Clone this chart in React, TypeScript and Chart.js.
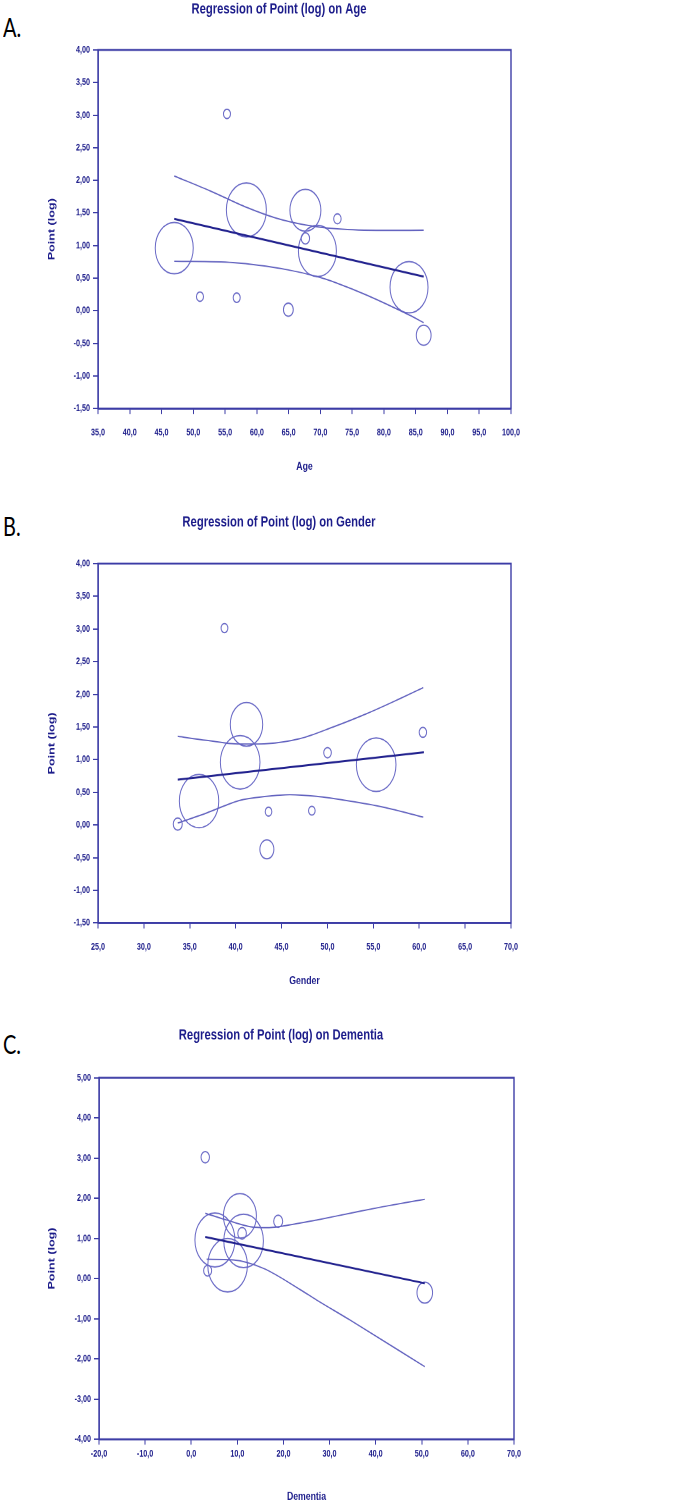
import React, { useEffect, useRef } from "react";
import { Chart, registerables } from "chart.js";

Chart.register(...registerables);

// ---------------- Panel A: Age ----------------
const ageStudyX = [47.0, 58.35, 67.64, 69.53, 83.95, 72.68, 67.64, 51.05, 56.83, 64.96, 86.26, 55.3];
const ageStudyY = [0.96, 1.546, 1.54, 0.917, 0.36, 1.41, 1.11, 0.216, 0.2, 0.017, -0.376, 3.02];
const ageStudyW = [19, 20, 15.5, 19, 19, 3.7, 4.2, 3.5, 3.5, 4.9, 7.4, 3.5];
const ageFitX = [47.0, 86.26];
const ageFitY = [1.408, 0.523];
const ageUpperX = [47.0, 52.58, 58.35, 63.08, 67.64, 72.68, 79.85, 86.26];
const ageUpperY = [2.067, 1.842, 1.587, 1.419, 1.316, 1.255, 1.232, 1.235];
const ageLowerX = [47.0, 56.25, 64.96, 69.53, 72.68, 77.24, 83.95, 86.26];
const ageLowerY = [0.759, 0.738, 0.626, 0.523, 0.421, 0.242, -0.064, -0.182];
const ageXTicks = [35, 40, 45, 50, 55, 60, 65, 70, 75, 80, 85, 90, 95, 100];
const ageYTicks = [-1.5, -1, -0.5, 0, 0.5, 1, 1.5, 2, 2.5, 3, 3.5, 4];

// ---------------- Panel B: Gender ----------------
const genderStudyX = [36.01, 41.18, 40.49, 55.31, 50.01, 60.4, 43.58, 48.3, 33.69, 43.4, 38.78];
const genderStudyY = [0.366, 1.54, 0.959, 0.923, 1.107, 1.418, 0.204, 0.219, 0.014, -0.373, 3.014];
const genderStudyW = [19.7, 16.2, 19.8, 19.8, 3.8, 3.7, 3.3, 3.3, 4.5, 7, 3.4];
const genderFitX = [33.69, 60.51];
const genderFitY = [0.694, 1.112];
const genderUpperX = [33.69, 36.82, 40.45, 43.36, 46.99, 50.62, 54.27, 57.9, 60.44];
const genderUpperY = [1.357, 1.295, 1.238, 1.245, 1.321, 1.5, 1.704, 1.934, 2.102];
const genderLowerX = [33.69, 36.82, 40.45, 43.36, 45.9, 48.81, 52.44, 56.08, 60.44];
const genderLowerY = [0.03, 0.183, 0.377, 0.438, 0.464, 0.438, 0.366, 0.274, 0.121];
const genderXTicks = [25, 30, 35, 40, 45, 50, 55, 60, 65, 70];
const genderYTicks = [-1.5, -1, -0.5, 0, 0.5, 1, 1.5, 2, 2.5, 3, 3.5, 4];

// ---------------- Panel C: Dementia ----------------
const dementiaStudyX = [3.04, 10.56, 5.14, 11.36, 7.89, 11.03, 18.86, 3.56, 50.65];
const dementiaStudyY = [3.02, 1.56, 0.96, 0.936, 0.331, 1.127, 1.426, 0.197, -0.35];
const dementiaStudyW = [4.2, 16.5, 20, 19.8, 19.8, 4.3, 4.5, 4, 7.8];
const dementiaFitX = [3.04, 50.65];
const dementiaFitY = [1.035, -0.117];
const dementiaUpperX = [3.04, 7.67, 12.73, 16.34, 19.95, 27.18, 34.4, 41.62, 50.65];
const dementiaUpperY = [1.625, 1.458, 1.292, 1.267, 1.309, 1.458, 1.625, 1.79, 1.974];
const dementiaLowerX = [3.34, 9.1, 15.6, 23.56, 27.18, 34.4, 50.65];
const dementiaLowerY = [0.48, 0.463, 0.256, -0.27, -0.533, -1.03, -2.193];
const dementiaXTicks = [-20, -10, 0, 10, 20, 30, 40, 50, 60, 70];
const dementiaYTicks = [-4, -3, -2, -1, 0, 1, 2, 3, 4, 5];

// ---------------- Styles ----------------
const STRETCH = 1.35;
const FONT = "'Liberation Sans', Arial, Helvetica, sans-serif";
const TEXT = "#1c1c8a";
const AXIS = "#3c3ca6";
const CIRCLE = "#6a6ac6";
const BAND = "#6262bf";
const FIT = "#22228e";

const fmtX = (v: number) => v.toFixed(1).replace(".", ",");
const fmtY = (v: number) => v.toFixed(2).replace(".", ",");

const pts = (xs: number[], ys: number[]) => xs.map((x, i) => ({ x, y: ys[i] }));

type PanelProps = {
  letter: string;
  title: string;
  xTitle: string;
  sx: number[];
  sy: number[];
  sw: number[];
  fx: number[];
  fy: number[];
  ux: number[];
  uy: number[];
  lx: number[];
  ly: number[];
  xTicks: number[];
  yTicks: number[];
  top: number;
  letterTop: number;
  width: number;
  height: number;
  plotLeft: number;
  plotRight: number;
  plotTop: number;
  plotBottom: number;
  xTickPad: number;
};

const framePlugin = {
  id: "frame",
  afterDatasetsDraw(chart: any) {
    const { ctx, chartArea } = chart;
    if (!chartArea) return;
    ctx.save();
    ctx.strokeStyle = AXIS;
    ctx.lineWidth = 1.4;
    ctx.strokeRect(chartArea.left, chartArea.top, chartArea.right - chartArea.left, chartArea.bottom - chartArea.top);
    ctx.restore();
  },
};

function Panel(p: PanelProps) {
  const ref = useRef<HTMLCanvasElement | null>(null);

  useEffect(() => {
    if (!ref.current) return;
    const yTitleSize = 9.3;
    const tickFont = { family: FONT, size: 7.2, weight: "bold" };
    const chart = new Chart(ref.current, {
      type: "bubble",
      data: {
        datasets: [
          {
            type: "line",
            data: pts(p.ux, p.uy),
            borderColor: BAND,
            borderWidth: 1,
            pointRadius: 0,
            fill: false,
            cubicInterpolationMode: "monotone",
          } as any,
          {
            type: "line",
            data: pts(p.lx, p.ly),
            borderColor: BAND,
            borderWidth: 1,
            pointRadius: 0,
            fill: false,
            cubicInterpolationMode: "monotone",
          } as any,
          {
            type: "line",
            data: pts(p.fx, p.fy),
            borderColor: FIT,
            borderWidth: 1.5,
            pointRadius: 0,
            fill: false,
          } as any,
          {
            type: "bubble",
            data: p.sx.map((x, i) => ({ x, y: p.sy[i], r: p.sw[i] })),
            borderColor: CIRCLE,
            backgroundColor: "rgba(0,0,0,0)",
            borderWidth: 1,
            clip: false,
          } as any,
        ],
      },
      options: {
        responsive: false,
        animation: false,
        devicePixelRatio: 2,
        layout: { padding: 0 },
        plugins: {
          legend: { display: false },
          tooltip: { enabled: false },
          title: {
            display: true,
            text: p.title,
            color: TEXT,
            font: { family: FONT, size: 11.25, weight: "bold", lineHeight: 1.2 },
            padding: { top: 0, bottom: p.plotTop - 13.5 },
          },
        },
        scales: {
          x: {
            type: "linear",
            min: p.xTicks[0],
            max: p.xTicks[p.xTicks.length - 1],
            afterBuildTicks: (s: any) => {
              s.ticks = p.xTicks.map((v) => ({ value: v }));
            },
            afterFit: (s: any) => {
              s.height = p.height - p.plotBottom;
            },
            ticks: {
              callback: (v: any) => fmtX(Number(v)),
              color: TEXT,
              font: tickFont,
              padding: p.xTickPad,
              maxRotation: 0,
              autoSkip: false,
            },
            grid: { display: true, drawOnChartArea: false, drawTicks: true, tickLength: 4, color: AXIS, lineWidth: 1 },
            border: { display: true, color: AXIS, width: 1.4 },
            title: {
              display: true,
              text: p.xTitle,
              color: TEXT,
              font: { family: FONT, size: 8.7, weight: "bold", lineHeight: 1.2 },
              padding: { top: 0, bottom: 2 },
            },
          },
          y: {
            type: "linear",
            min: p.yTicks[0],
            max: p.yTicks[p.yTicks.length - 1],
            afterBuildTicks: (s: any) => {
              s.ticks = p.yTicks.map((v) => ({ value: v }));
            },
            afterFit: (s: any) => {
              s.width = p.plotLeft;
            },
            ticks: {
              callback: (v: any) => fmtY(Number(v)),
              color: TEXT,
              font: tickFont,
              padding: 3,
              autoSkip: false,
            },
            grid: { display: true, drawOnChartArea: false, drawTicks: true, tickLength: 5, color: AXIS, lineWidth: 1 },
            border: { display: true, color: AXIS, width: 1.4 },
            title: {
              display: true,
              text: "Point (log)",
              color: TEXT,
              font: { family: FONT, size: yTitleSize, weight: "bold", lineHeight: 1.2 },
              padding: { top: 52 - (yTitleSize * 1.2) / 2, bottom: 0 },
            },
          },
          yRight: {
            type: "linear",
            position: "right",
            display: true,
            ticks: { display: false },
            grid: { display: false },
            border: { display: false },
            afterFit: (s: any) => {
              s.width = p.width - p.plotRight;
            },
          },
        },
      } as any,
      plugins: [framePlugin],
    });
    return () => chart.destroy();
  }, []);

  return (
    <>
      <div
        style={{
          position: "absolute",
          left: 3,
          top: p.letterTop,
          fontFamily: "Lato, 'Open Sans', sans-serif",
          fontSize: 20,
          lineHeight: "20px",
          color: "#000",
          transform: "scaleY(1.3)",
          transformOrigin: "0 0",
        }}
      >
        {p.letter}
      </div>
      <div style={{ position: "absolute", left: 0, top: p.top, width: p.width, height: p.height * STRETCH }}>
        <canvas
          ref={ref}
          width={p.width}
          height={p.height}
          style={{
            display: "block",
            width: p.width,
            height: p.height,
            transform: `scaleY(${STRETCH})`,
            transformOrigin: "0 0",
          }}
        />
      </div>
    </>
  );
}

export default function App() {
  return (
    <div
      style={{
        position: "absolute",
        left: 0,
        top: 0,
        width: 688,
        height: 1504,
        overflow: "hidden",
        background: "#fff",
      }}
    >
      <Panel
        letter="A."
        title="Regression of Point (log) on Age"
        xTitle="Age"
        sx={ageStudyX}
        sy={ageStudyY}
        sw={ageStudyW}
        fx={ageFitX}
        fy={ageFitY}
        ux={ageUpperX}
        uy={ageUpperY}
        lx={ageLowerX}
        ly={ageLowerY}
        xTicks={ageXTicks}
        yTicks={ageYTicks}
        top={0}
        letterTop={14}
        width={558}
        height={353}
        plotLeft={98}
        plotRight={511}
        plotTop={37.0}
        plotBottom={302.6}
        xTickPad={9.5}
      />
      <Panel
        letter="B."
        title="Regression of Point (log) on Gender"
        xTitle="Gender"
        sx={genderStudyX}
        sy={genderStudyY}
        sw={genderStudyW}
        fx={genderFitX}
        fy={genderFitY}
        ux={genderUpperX}
        uy={genderUpperY}
        lx={genderLowerX}
        ly={genderLowerY}
        xTicks={genderXTicks}
        yTicks={genderYTicks}
        top={512.7}
        letterTop={513}
        width={558}
        height={354}
        plotLeft={98}
        plotRight={511}
        plotTop={37.5}
        plotBottom={303.7}
        xTickPad={9.4}
      />
      <Panel
        letter="C."
        title="Regression of Point (log) on Dementia"
        xTitle="Dementia"
        sx={dementiaStudyX}
        sy={dementiaStudyY}
        sw={dementiaStudyW}
        fx={dementiaFitX}
        fy={dementiaFitY}
        ux={dementiaUpperX}
        uy={dementiaUpperY}
        lx={dementiaLowerX}
        ly={dementiaLowerY}
        xTicks={dementiaXTicks}
        yTicks={dementiaYTicks}
        top={1026}
        letterTop={1031}
        width={562}
        height={356}
        plotLeft={99}
        plotRight={514}
        plotTop={38.3}
        plotBottom={306.1}
        xTickPad={2.5}
      />
    </div>
  );
}
